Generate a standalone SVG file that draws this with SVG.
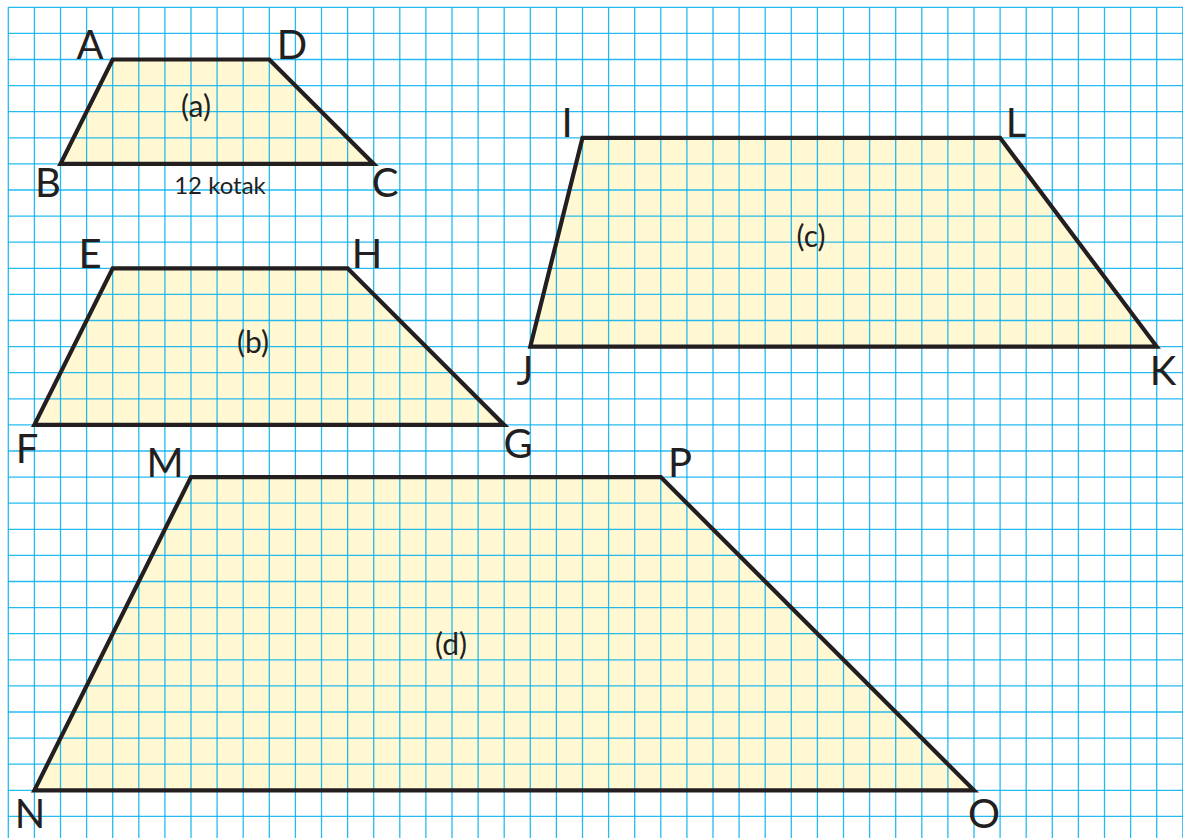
<svg xmlns="http://www.w3.org/2000/svg" width="1183" height="838" viewBox="0 0 1183 838">
<style>
.fill{fill:#fff8d2;stroke:none}
.grid{fill:none;stroke:#00aeef;stroke-width:1.3;stroke-opacity:0.85}
.edge{fill:none;stroke:#231f20;stroke-width:4.2;stroke-linejoin:miter;stroke-miterlimit:10}
.lbl{font-family:Lato,"Liberation Sans",sans-serif;font-size:40px;fill:#231f20;text-anchor:middle}
.name{font-family:Lato,"Liberation Sans",sans-serif;font-size:30px;fill:#231f20;text-anchor:middle}
.note{font-family:Lato,"Liberation Sans",sans-serif;font-size:24px;fill:#231f20;text-anchor:middle}
</style>
<rect width="1183" height="838" fill="#ffffff"/>
<g id="fills">
<polygon class="fill" points="112.7,59.5 269.3,59.5 373.7,163.9 60.5,163.9"/>
<polygon class="fill" points="112.7,268.3 347.6,268.3 504.2,424.9 34.4,424.9"/>
<polygon class="fill" points="582.5,137.8 1000.1,137.8 1156.7,346.6 530.3,346.6"/>
<polygon class="fill" points="191,477.1 660.8,477.1 974,790.3 34.4,790.3"/>
</g>
<g id="grid">
<path class="grid" d="M8.3 7.3V838M34.4 7.3V838M60.5 7.3V838M86.6 7.3V838M112.7 7.3V838M138.8 7.3V838M164.9 7.3V838M191 7.3V838M217.1 7.3V838M243.2 7.3V838M269.3 7.3V838M295.4 7.3V838M321.5 7.3V838M347.6 7.3V838M373.7 7.3V838M399.8 7.3V838M425.9 7.3V838M452 7.3V838M478.1 7.3V838M504.2 7.3V838M530.3 7.3V838M556.4 7.3V838M582.5 7.3V838M608.6 7.3V838M634.7 7.3V838M660.8 7.3V838M686.9 7.3V838M713 7.3V838M739.1 7.3V838M765.2 7.3V838M791.3 7.3V838M817.4 7.3V838M843.5 7.3V838M869.6 7.3V838M895.7 7.3V838M921.8 7.3V838M947.9 7.3V838M974 7.3V838M1000.1 7.3V838M1026.2 7.3V838M1052.3 7.3V838M1078.4 7.3V838M1104.5 7.3V838M1130.6 7.3V838M1156.7 7.3V838M1182.8 7.3V838"/>
<path class="grid" d="M8.3 7.3H1183M8.3 33.4H1183M8.3 59.5H1183M8.3 85.6H1183M8.3 111.7H1183M8.3 137.8H1183M8.3 163.9H1183M8.3 190H1183M8.3 216.1H1183M8.3 242.2H1183M8.3 268.3H1183M8.3 294.4H1183M8.3 320.5H1183M8.3 346.6H1183M8.3 372.7H1183M8.3 398.8H1183M8.3 424.9H1183M8.3 451H1183M8.3 477.1H1183M8.3 503.2H1183M8.3 529.3H1183M8.3 555.4H1183M8.3 581.5H1183M8.3 607.6H1183M8.3 633.7H1183M8.3 659.8H1183M8.3 685.9H1183M8.3 712H1183M8.3 738.1H1183M8.3 764.2H1183M8.3 790.3H1183M8.3 816.4H1183"/>
</g>
<g id="trapezium-a">
<polygon class="edge" points="112.7,59.5 269.3,59.5 373.7,163.9 60.5,163.9"/>
<text class="lbl" x="90" y="59">A</text>
<text class="lbl" x="292" y="59">D</text>
<text class="lbl" x="48" y="197">B</text>
<text class="lbl" x="385" y="197">C</text>
<text class="name" x="196" y="117">(a)</text>
<text class="note" x="220" y="194">12 kotak</text>
</g>
<g id="trapezium-b">
<polygon class="edge" points="112.7,268.3 347.6,268.3 504.2,424.9 34.4,424.9"/>
<text class="lbl" x="90" y="268">E</text>
<text class="lbl" x="367" y="268">H</text>
<text class="lbl" x="27" y="463">F</text>
<text class="lbl" x="518" y="458">G</text>
<text class="name" x="253" y="353">(b)</text>
</g>
<g id="trapezium-c">
<polygon class="edge" points="582.5,137.8 1000.1,137.8 1156.7,346.6 530.3,346.6"/>
<text class="lbl" x="567" y="137">I</text>
<text class="lbl" x="1016" y="137">L</text>
<text class="lbl" x="525" y="385">J</text>
<text class="lbl" x="1163" y="385">K</text>
<text class="name" x="811" y="247">(c)</text>
</g>
<g id="trapezium-d">
<polygon class="edge" points="191,477.1 660.8,477.1 974,790.3 34.4,790.3"/>
<text class="lbl" x="165" y="477">M</text>
<text class="lbl" x="680" y="477">P</text>
<text class="lbl" x="30" y="828">N</text>
<text class="lbl" x="984" y="828">O</text>
<text class="name" x="451" y="655">(d)</text>
</g>
</svg>
